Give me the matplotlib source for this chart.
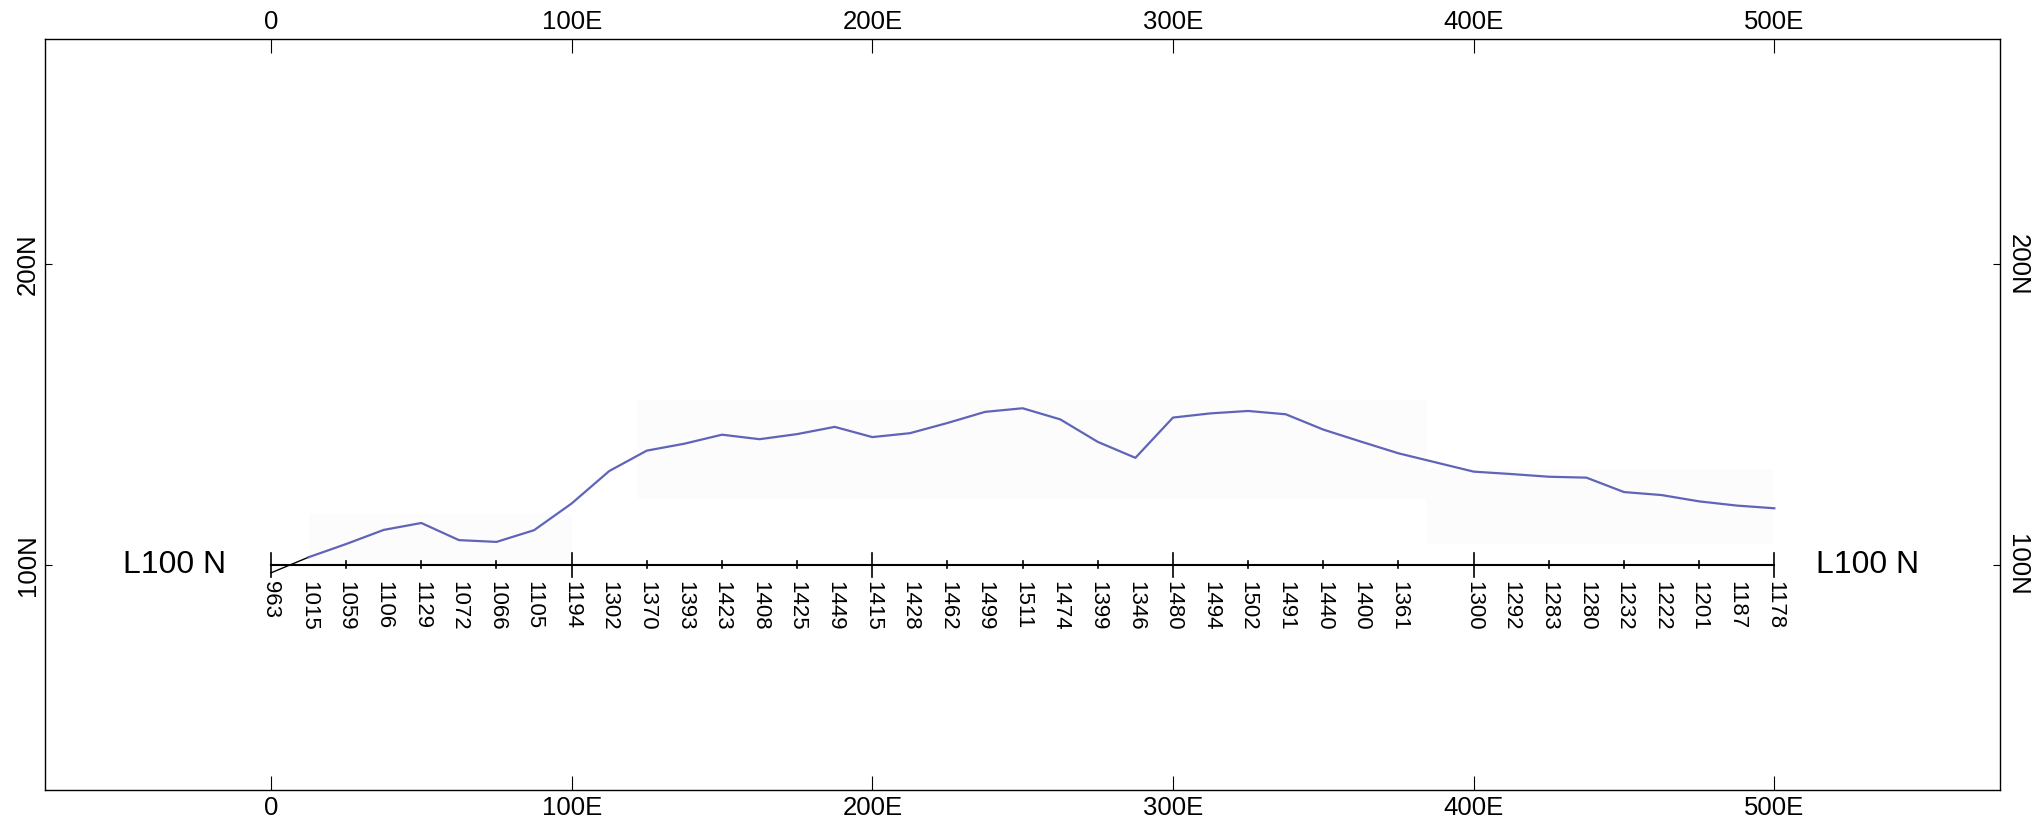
import matplotlib
matplotlib.use("Agg")
import matplotlib.pyplot as plt
from matplotlib import font_manager
from matplotlib.patches import Rectangle

# station positions along line L100 N (E) and readings; no reading at 387.5E
stations = [0, 12.5, 25, 37.5, 50, 62.5, 75, 87.5, 100, 112.5, 125, 137.5, 150,
            162.5, 175, 187.5, 200, 212.5, 225, 237.5, 250, 262.5, 275, 287.5,
            300, 312.5, 325, 337.5, 350, 362.5, 375,
            400, 412.5, 425, 437.5, 450, 462.5, 475, 487.5, 500]
readings = [963, 1015, 1059, 1106, 1129, 1072, 1066, 1105, 1194, 1302, 1370,
            1393, 1423, 1408, 1425, 1449, 1415, 1428, 1462, 1499, 1511, 1474,
            1399, 1346, 1480, 1494, 1502, 1491, 1440, 1400, 1361,
            1300, 1292, 1283, 1280, 1232, 1222, 1201, 1187, 1178]

line_north = 100
east_ticks = [0, 100, 200, 300, 400, 500]
east_labels = ["0", "100E", "200E", "300E", "400E", "500E"]
north_ticks = [100, 200]
north_labels = ["100N", "200N"]

# profile drawn on the map: 10 units of reading per metre above line
base_reading = 990
reading_scale = 0.1

names = {f.name for f in font_manager.fontManager.ttflist}
if "Liberation Sans Narrow" in names:
    narrow = "Liberation Sans Narrow"
    tick_size, line_size = 23, 28
else:
    narrow = "Liberation Sans"
    tick_size, line_size = 18.5, 23

profile = [line_north + (r - base_reading) * reading_scale for r in readings]

fig = plt.figure(figsize=(20.4, 8.26), dpi=100)
ax = fig.add_axes([0.0223, 0.0436, 0.958, 0.909])
ax.set_xlim(-75, 575)
ax.set_ylim(25, 275)

# very faint background patches behind the profile
for x0, x1, y0, y1 in [(12.5, 100, 100, 117), (122, 384, 122, 155), (384, 500, 107, 132)]:
    ax.add_patch(Rectangle((x0, y0), x1 - x0, y1 - y0, color="#fcfcfc", lw=0, zorder=0))

# baseline of the line with station ticks
ax.plot([stations[0], stations[-1]], [line_north, line_north], color="black", lw=1.5)
for e in range(0, 501, 25):
    half = 4 if e % 100 == 0 else 1.2
    ax.plot([e, e], [line_north - half, line_north + half], color="black", lw=1.2)

# profile line
ax.plot(stations[:2], profile[:2], color="black", lw=1)
ax.plot(stations[1:], profile[1:], color="#6064b8", lw=1.6)

for s, r in zip(stations, readings):
    ax.text(s, line_north - 5.5, str(r), rotation=270, ha="center", va="top",
            fontsize=16, family="Liberation Sans")

ax.text(-32, line_north, "L100 N", ha="center", va="center", fontsize=line_size, family=narrow)
ax.text(531, line_north, "L100 N", ha="center", va="center", fontsize=line_size, family=narrow)

ax.set_xticks(east_ticks)
ax.set_xticklabels(east_labels, family=narrow, fontsize=tick_size)
ax.set_yticks(north_ticks)
ax.set_yticklabels(north_labels, family=narrow, fontsize=tick_size, rotation=90, va="center")
ax.tick_params(axis="x", direction="in", length=10, top=True, labeltop=True, pad=4)
ax.tick_params(axis="y", direction="in", length=5, right=True, labelright=True, pad=4)
# right side labels read the other way
for t in ax.yaxis.get_major_ticks():
    t.label2.set_rotation(270)
    t.label2.set_va("center")
    t.label2.set_family(narrow)
    t.label2.set_fontsize(tick_size)

for sp in ax.spines.values():
    sp.set_linewidth(1.0)

fig.savefig("out.png", dpi=100)
